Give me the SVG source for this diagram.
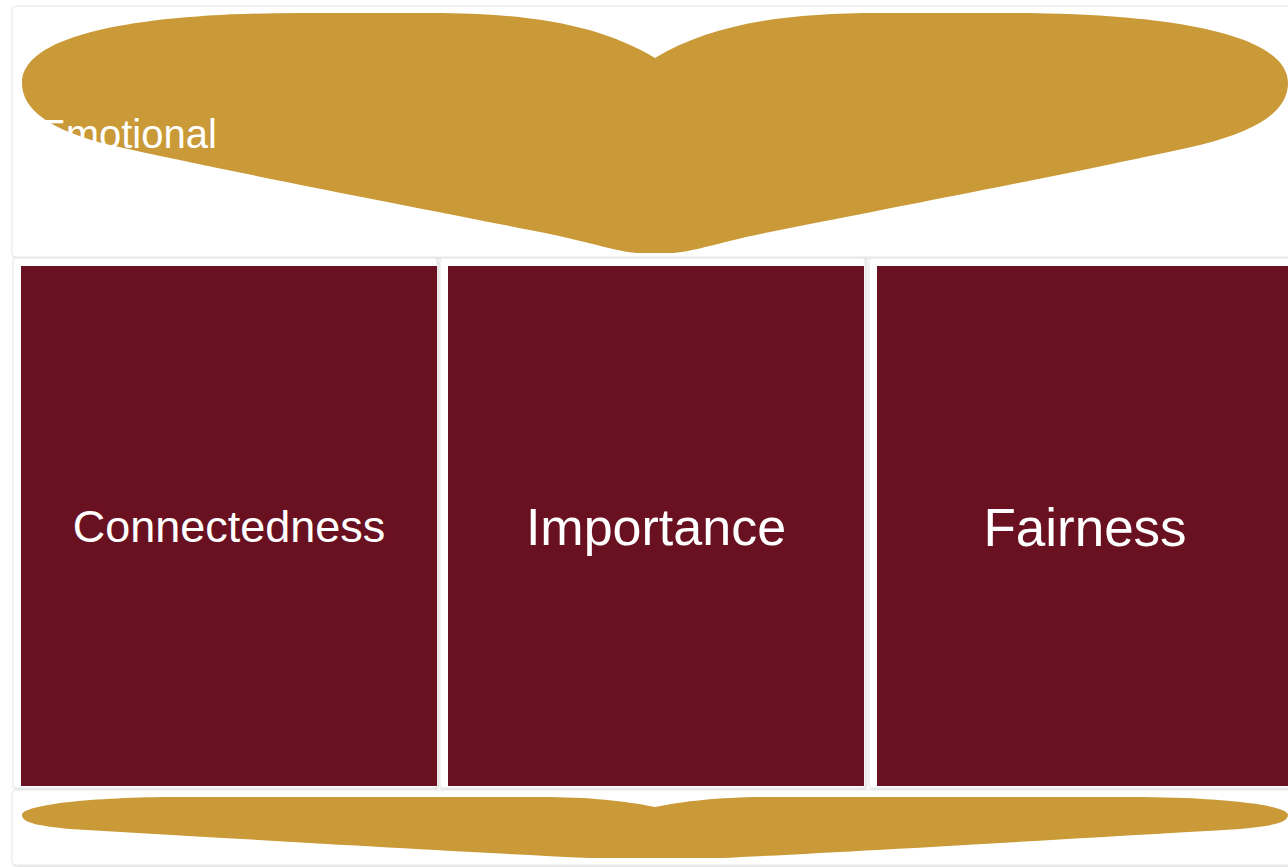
<svg xmlns="http://www.w3.org/2000/svg" width="1288" height="867" viewBox="0 0 1288 867">
  <defs>
    <filter id="cardShadow" x="-5%" y="-5%" width="110%" height="110%">
      <feDropShadow dx="1" dy="1" stdDeviation="1" flood-color="#000" flood-opacity="0.18"/>
    </filter>
    <style>
      .card { fill: #ffffff; stroke: #e8e8e8; stroke-width: 1; filter: url(#cardShadow); }
      .gold { fill: #c99a37; }
      .block { fill: #691120; }
      .label { fill: #ffffff; font-family: "Liberation Sans", Arial, sans-serif; }
      .centered { text-anchor: middle; }
    </style>
  </defs>

  <rect x="0" y="0" width="1288" height="867" fill="#ffffff"/>

  <!-- top band: emotional -->
  <g id="emotional">
    <rect class="card" x="12" y="6" width="1300" height="251" rx="4"/>
    <path class="gold" d="M 655,58 C 710,25 780,13 880,13 L 1010,13 C 1160,13 1288,32 1288,83 C 1288,110 1260,130 1200,145 C 1080,172 880,210 770,232 C 715,243 690,253 670,253 L 640,253 C 620,253 595,243 540,232 C 430,210 230,172 110,145 C 50,130 22,110 22,83 C 22,32 150,13 300,13 L 430,13 C 530,13 600,25 655,58 Z"/>
    <text class="label" x="39" y="148" font-size="40">Emotional</text>
  </g>

  <!-- three pillars -->
  <g id="connectedness">
    <rect class="card" x="13" y="258" width="424" height="530" rx="3"/>
    <rect class="block" x="21" y="266" width="416" height="520"/>
    <text class="label centered" x="229" y="542" font-size="45">Connectedness</text>
  </g>

  <g id="importance">
    <rect class="card" x="440" y="258" width="425" height="530" rx="3"/>
    <rect class="block" x="448" y="266" width="416" height="520"/>
    <text class="label centered" x="656" y="545" font-size="52">Importance</text>
  </g>

  <g id="fairness">
    <rect class="card" x="869" y="258" width="440" height="530" rx="3"/>
    <rect class="block" x="877" y="266" width="420" height="520"/>
    <text class="label centered" x="1085" y="546" font-size="53">Fairness</text>
  </g>

  <!-- bottom band -->
  <g id="base">
    <rect class="card" x="12" y="790" width="1300" height="75" rx="4"/>
    <path class="gold" d="M 655,807 C 685,801 720,797 770,797 L 1130,797 C 1220,797 1288,805 1288,815 C 1288,823 1270,826 1240,829 C 1050,840 850,852 720,858 L 590,858 C 460,852 260,840 70,829 C 40,826 22,823 22,815 C 22,805 90,797 180,797 L 540,797 C 590,797 625,801 655,807 Z"/>
  </g>
</svg>
